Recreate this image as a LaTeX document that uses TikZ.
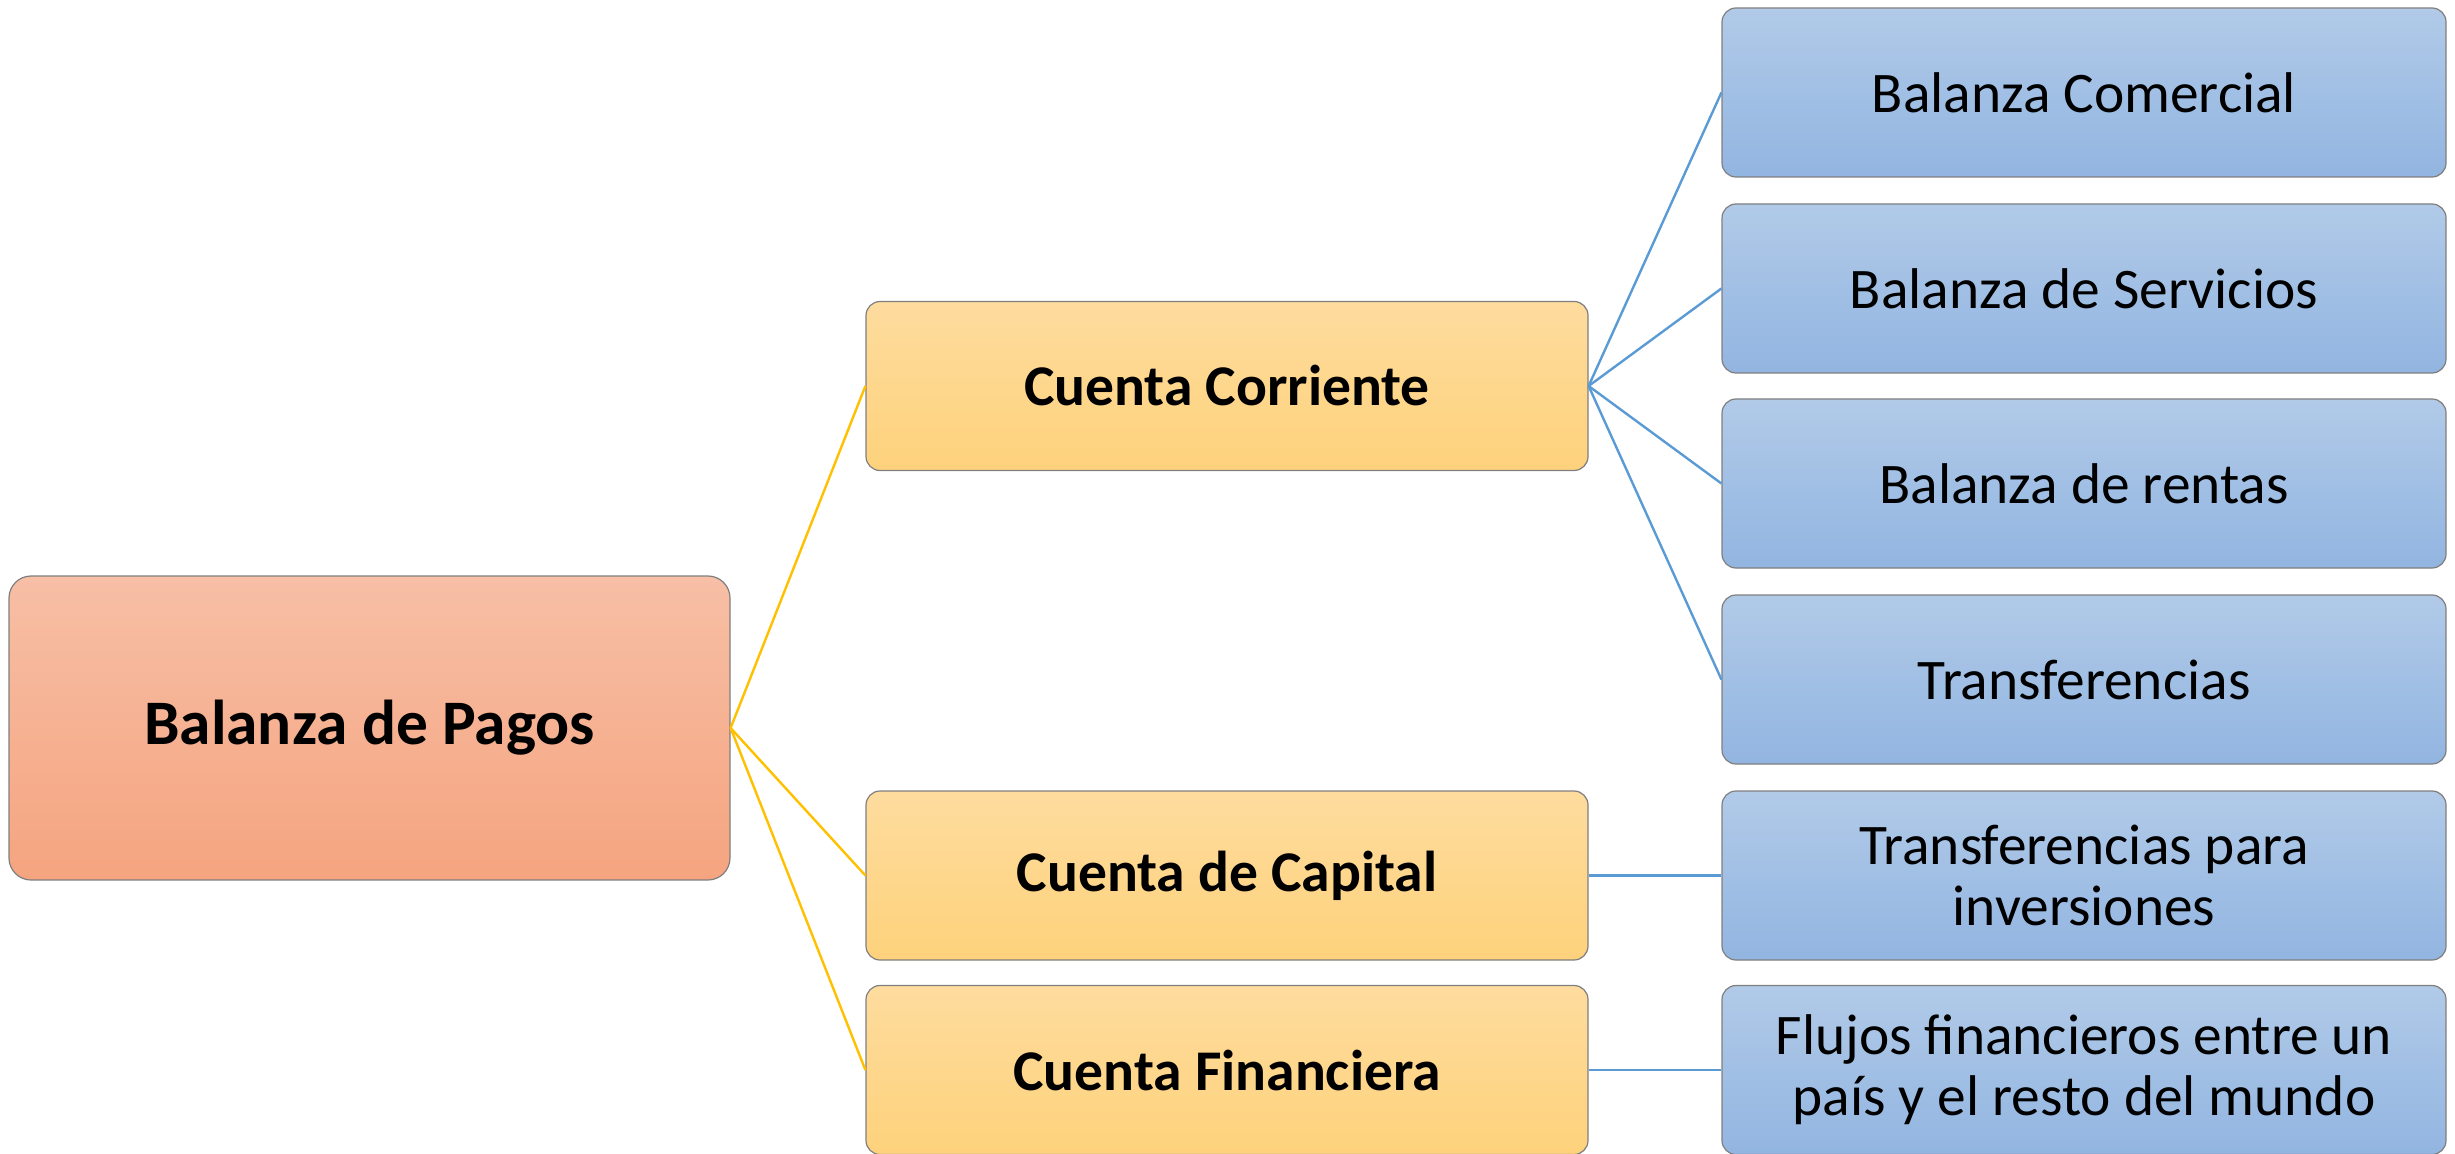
\documentclass[tikz,border=0pt]{standalone}
\usepackage{fontspec}
\setmainfont{Carlito}
\definecolor{rootTop}{HTML}{F7BFA6}
\definecolor{rootBot}{HTML}{F5A47F}
\definecolor{midTop}{HTML}{FEDC9E}
\definecolor{midBot}{HTML}{FED27C}
\definecolor{leafTop}{HTML}{B1CAE8}
\definecolor{leafBot}{HTML}{92B5E1}
\definecolor{edgeGray}{HTML}{7F7F7F}
\definecolor{lineYellow}{HTML}{FFC000}
\definecolor{lineBlue}{HTML}{5B9BD5}
\begin{document}
\begin{tikzpicture}[x=0.5pt,y=-0.5pt,
  basebox/.style={draw=edgeGray, line width=0.6pt, align=center, inner sep=0pt, text=black},
  rootbox/.style={basebox, rounded corners=11pt, minimum width=360.5pt, minimum height=152pt,
    top color=rootTop, bottom color=rootBot, font=\bfseries\fontsize{31.7}{36}\selectfont},
  midbox/.style={basebox, rounded corners=7pt, minimum width=361pt, minimum height=84.5pt,
    top color=midTop, bottom color=midBot, font=\bfseries\fontsize{28.8}{33}\selectfont},
  leafbox/.style={basebox, rounded corners=7pt, minimum width=362pt, minimum height=84.5pt,
    top color=leafTop, bottom color=leafBot, font=\fontsize{28.7}{30.5}\selectfont},
  yline/.style={draw=lineYellow, line width=1.2pt},
  bline/.style={draw=lineBlue, line width=1.2pt}]
\useasboundingbox (0,0) rectangle (2455,1154);

\node[rootbox] (bp) at (369.5,728) {Balanza de Pagos};

\node[midbox] (cc) at (1227,386) {Cuenta Corriente};
\node[midbox] (ck) at (1227,875.5) {Cuenta de Capital};
\node[midbox] (cf) at (1227,1070) {Cuenta Financiera};

\node[leafbox] (bc) at (2084,92.5) {Balanza Comercial};
\node[leafbox] (bs) at (2084,288.5) {Balanza de Servicios};
\node[leafbox] (br) at (2084,483.5) {Balanza de rentas};
\node[leafbox] (tr) at (2084,679.5) {Transferencias};
\node[leafbox] (ti) at (2084,875.5) {Transferencias para\\inversiones};
\node[leafbox] (ff) at (2084,1070) {Flujos financieros entre un\\país y el resto del mundo};

\draw[yline] (bp.east) -- (cc.west);
\draw[yline] (bp.east) -- (ck.west);
\draw[yline] (bp.east) -- (cf.west);

\draw[bline] (cc.east) -- (bc.west);
\draw[bline] (cc.east) -- (bs.west);
\draw[bline] (cc.east) -- (br.west);
\draw[bline] (cc.east) -- (tr.west);
\draw[bline] (ck.east) -- (ti.west);
\draw[bline] (cf.east) -- (ff.west);
\end{tikzpicture}
\end{document}
